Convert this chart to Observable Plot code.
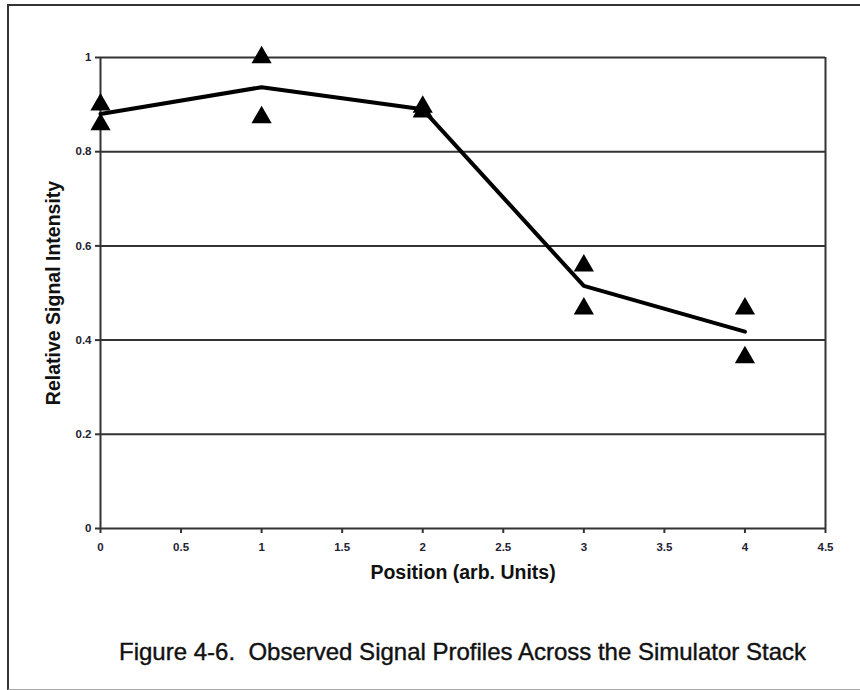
<!DOCTYPE html>
<html>
<head>
<meta charset="utf-8">
<script src="https://cdn.jsdelivr.net/npm/d3@7"></script>
<script src="https://cdn.jsdelivr.net/npm/@observablehq/plot@0.6"></script>
<style>
  html, body { margin: 0; padding: 0; background: #fff; }
  body { position: relative; width: 860px; height: 690px; overflow: hidden; font-family: "Liberation Sans", Arial, sans-serif; }
  #border { position: absolute; left: 7px; top: 4px; width: 870px; height: 686px;
            border-left: 2px solid #333; border-top: 2px solid #333; border-bottom: 1px solid #aaa; box-sizing: border-box; }
  #chart { position: absolute; left: 0; top: 0; }
  #caption { position: absolute; left: 0; width: 925px; top: 638px; text-align: center;
             font-family: "Liberation Sans Narrow", "Arial Narrow", "Liberation Sans", sans-serif;
             font-size: 24px; color: #111; -webkit-text-stroke: 0.4px #111; }
</style>
</head>
<body>
<div id="border"></div>
<div id="chart"></div>
<div id="caption">Figure 4-6.&nbsp; Observed Signal Profiles Across the Simulator Stack</div>
<script>
// Data
const positions = [0, 1, 2, 3, 4];
const upperValues = [0.900, 1.000, 0.895, 0.558, 0.467];
const lowerValues = [0.858, 0.873, 0.885, 0.467, 0.363];
const meanValues = [0.880, 0.937, 0.890, 0.515, 0.418];

const xTicks = [0, 0.5, 1, 1.5, 2, 2.5, 3, 3.5, 4, 4.5];
const yTicks = [0, 0.2, 0.4, 0.6, 0.8, 1];
const xLabel = "Position (arb. Units)";
const yLabel = "Relative Signal Intensity";

const points = positions.flatMap((p, i) => [
  {x: p, y: upperValues[i]},
  {x: p, y: lowerValues[i]}
]);
const meanLine = positions.map((p, i) => ({x: p, y: meanValues[i]}));

const chart = Plot.plot({
  width: 860,
  height: 600,
  marginLeft: 100,
  marginRight: 35,
  marginTop: 57,
  marginBottom: 72,
  style: {background: "transparent", fontFamily: "Liberation Sans, Arial, sans-serif"},
  x: {domain: [0, 4.5]},
  y: {domain: [0, 1]},
  marks: [
    Plot.gridY(yTicks, {stroke: "#333", strokeOpacity: 1, strokeWidth: 2}),
    Plot.ruleX([0, 4.5], {stroke: "#333", strokeWidth: 2}),
    Plot.axisX(xTicks, {tickSize: 5, tickPadding: 9, stroke: "#333", strokeWidth: 2, fontSize: 11.5, fontWeight: "bold", fill: "#223", label: null,
      tickFormat: d => String(d)}),
    Plot.axisY(yTicks, {tickSize: 5, tickPadding: 4, stroke: "#333", strokeWidth: 2, fontSize: 11.5, fontWeight: "bold", fill: "#223", label: null,
      tickFormat: d => String(d)}),
    Plot.text([xLabel], {frameAnchor: "bottom", dy: 50, fontSize: 19.5, fontWeight: "bold", fill: "#111", textAnchor: "middle"}),
    Plot.text([yLabel], {frameAnchor: "left", dx: -47, rotate: -90, fontSize: 19.5, fontWeight: "bold", fill: "#111", textAnchor: "middle"}),
    Plot.line(meanLine, {x: "x", y: "y", stroke: "#000", strokeWidth: 4, strokeLinejoin: "miter"}),
    Plot.dot(points, {x: "x", y: "y", symbol: "triangle", r: 7.5, fill: "#000", stroke: "none"})
  ]
});
document.getElementById("chart").appendChild(chart);
</script>
</body>
</html>
